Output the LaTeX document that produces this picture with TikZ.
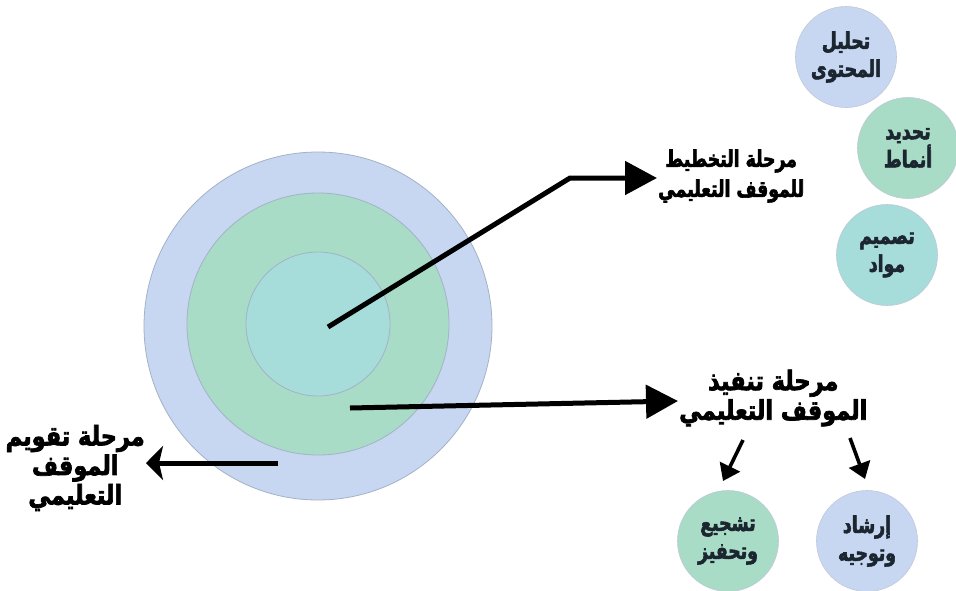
\documentclass[tikz,border=0pt]{standalone}
\usepackage{fontspec}
\newfontfamily\arabicfont[Script=Arabic, FakeStretch=0.75, FakeBold=2.5]{DejaVu Sans}
\newfontfamily\arabicwide[Script=Arabic, FakeStretch=0.83, FakeBold=2.5]{DejaVu Sans}
\TeXXeTstate=1
\usetikzlibrary{arrows.meta}
\newcommand{\rl}[1]{\beginR #1\endR}
\definecolor{blueC}{HTML}{C8D7F1}
\definecolor{greenC}{HTML}{A8DCC6}
\definecolor{tealC}{HTML}{A6DCDA}
\definecolor{edgeC}{HTML}{A3B2C6}
\definecolor{inkC}{HTML}{1C2630}
\tikzset{
  ring/.style={circle, draw=edgeC, line width=0.8pt, inner sep=0pt},
  bubble/.style={circle, draw=edgeC!70, line width=0.6pt, minimum size=101pt, inner sep=0pt,
    align=center, font=\arabicfont\bfseries\fontsize{23}{28}\selectfont, text=inkC},
  label/.style={align=center, inner sep=1pt, text=black},
  toplabel/.style={label, font=\arabicfont\bfseries\fontsize{23}{30}\selectfont},
  biglabel/.style={label, font=\arabicwide\bfseries\fontsize{27}{29.5}\selectfont},
  bigarrow/.style={line width=5pt, -{Triangle[length=32pt,width=33pt]}},
  leftarrow/.style={line width=5pt, -{Stealth[length=17pt,width=34pt,inset=4pt]}},
  smallarrow/.style={line width=3.6pt, -{Triangle[length=16pt,width=22pt]}}
}
\begin{document}
\begin{tikzpicture}[x=1pt,y=-1pt]
\useasboundingbox[fill=white] (0,0) rectangle (956,590);
% target circles
\node[ring, fill=blueC, minimum size=348pt] (outer) at (318,326) {};
\node[ring, fill=greenC, minimum size=262pt] (mid) at (318,324) {};
\node[ring, fill=tealC, minimum size=144pt] (inner) at (318,324) {};
% labels
\node[toplabel, anchor=west] (plan) at (657,176) {\rl{مرحلة التخطيط}\\\rl{للموقف التعليمي}};
\node[biglabel, anchor=west] (exec) at (678,398) {\rl{مرحلة تنفيذ}\\\rl{الموقف التعليمي}};
\node[biglabel, anchor=east] (eval) at (146,468) {\rl{مرحلة تقويم}\\\rl{الموقف}\\\rl{التعليمي}};
% bubbles
\node[bubble, fill=blueC] (analysis) at (846,57) {\rl{تحليل}\\\rl{المحتوى}};
\node[bubble, fill=greenC] (patterns) at (908,148) {\rl{تحديد}\\\rl{أنماط}};
\node[bubble, fill=tealC] (design) at (887,255) {\rl{تصميم}\\\rl{مواد}};
\node[bubble, fill=greenC] (motivate) at (728,541) {\rl{تشجيع}\\\rl{وتحفيز}};
\node[bubble, fill=blueC] (guide) at (867,541) {\rl{إرشاد}\\\rl{وتوجيه}};
% connector points
\coordinate (s1) at (328,327);
\coordinate (b1) at (570,178);
\coordinate (s2) at (350,408);
\coordinate (s3) at (278,463);
\coordinate (m1) at (743,440);
\coordinate (m2) at (723,481);
\coordinate (g1) at (850,438);
\coordinate (g2) at (865,479);
% connectors
\draw[bigarrow] (s1) -- (b1) -- (plan.west |- b1);
\draw[bigarrow] (s2) -- (exec.west |- 0,401);
\draw[leftarrow] (s3) -- (eval.east |- s3);
\draw[smallarrow] (m1) -- (m2);
\draw[smallarrow] (g1) -- (g2);
\end{tikzpicture}
\end{document}
